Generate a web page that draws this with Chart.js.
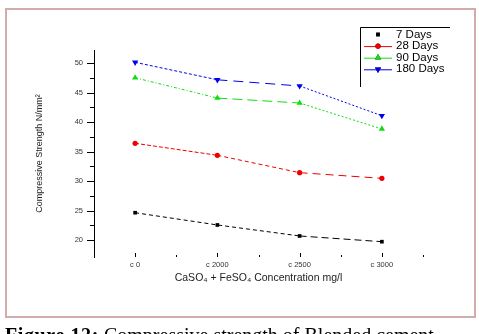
<!DOCTYPE html>
<html>
<head>
<meta charset="utf-8">
<script src="https://cdn.jsdelivr.net/npm/chart.js@4.4.1/dist/chart.umd.min.js"></script>
<style>
  body { margin:0; background:#fff; width:479px; height:334px; overflow:hidden; position:relative; }
  #frame { position:absolute; left:5px; top:8px; width:467px; height:306px; border:2px solid #d3abab; }
  #c { position:absolute; left:0; top:0; }
  #caption { position:absolute; left:5px; top:325px; font-family:'Liberation Serif','Times New Roman',serif; font-size:20px; line-height:20px; white-space:nowrap; color:#000; }
  #caption b { letter-spacing:0.6px; }
</style>
</head>
<body>
<div id="frame"></div>
<canvas id="c" width="479" height="334"></canvas>
<div id="caption"><b>Figure 12:</b> Compressive strength of Blended cement</div>
<script>
// chart data
const categories = ['c 0', 'c 2000', 'c 2500', 'c 3000'];
const seriesNames = ['7 Days', '28 Days', '90 Days', '180 Days'];
const days7   = [24.63, 22.55, 20.68, 19.71];
const days28  = [36.42, 34.38, 31.43, 30.47];
const days90  = [47.55, 44.10, 43.26, 38.85];
const days180 = [50.17, 47.20, 46.15, 41.10];
const yTicks = [20, 25, 30, 35, 40, 45, 50];

const toPoints = arr => arr.map((v, i) => ({ x: i, y: v }));

// per-segment dash patterns (Origin style mix)
const dashes = [
  [[4, 3], [4, 3], [7, 4]],
  [[4, 2], [4, 3], [8, 5]],
  [[3, 2, 1, 2], [10, 5], [2, 2]],
  [[3, 2], [10, 6], [2, 2]]
];

function ds(label, data, color, style, radius, rotation, idx) {
  return {
    label, data: toPoints(data),
    borderColor: color, backgroundColor: color,
    borderWidth: 1, pointStyle: style, pointRadius: radius, pointRotation: rotation,
    pointBorderWidth: 0, showLine: true, tension: 0,
    segment: { borderDash: c => dashes[idx][c.p0DataIndex] },
    legendLine: idx !== 0
  };
}

const minorTicks = {
  id: 'minorTicks',
  afterDraw(chart) {
    const { ctx } = chart;
    const x = chart.scales.x, y = chart.scales.y;
    ctx.save();
    ctx.strokeStyle = '#000';
    ctx.lineWidth = 1;
    ctx.beginPath();
    yTicks.forEach(v => {
      const p = Math.round(y.getPixelForValue(v)) + 0.5;
      ctx.moveTo(x.left - 7, p); ctx.lineTo(x.left, p);
      const m = Math.round(y.getPixelForValue(v + 2.5)) + 0.5;
      if (v + 2.5 < y.max) { ctx.moveTo(x.left - 4, m); ctx.lineTo(x.left, m); }
    });
    const b = y.bottom;
    categories.forEach((c, i) => {
      const p = Math.round(x.getPixelForValue(i)) + 0.5;
      ctx.moveTo(p, b - 4); ctx.lineTo(p, b);
      const m = Math.round(x.getPixelForValue(i + 0.5)) + 0.5;
      ctx.moveTo(m, b - 2); ctx.lineTo(m, b);
    });
    ctx.stroke();
    ctx.restore();
  }
};

const boxLegend = {
  id: 'boxLegend',
  afterDraw(chart) {
    const { ctx } = chart;
    ctx.save();
    ctx.strokeStyle = '#000';
    ctx.lineWidth = 1;
    ctx.beginPath();
    ctx.moveTo(360.5, 87); ctx.lineTo(360.5, 27.5); ctx.lineTo(450, 27.5);
    ctx.stroke();
    ctx.font = '11.5px "Liberation Sans", Arial, sans-serif';
    ctx.textBaseline = 'middle';
    chart.data.datasets.forEach((d, i) => {
      const yy = 34.5 + i * 11.6;
      if (d.legendLine) {
        ctx.strokeStyle = d.borderColor;
        ctx.beginPath(); ctx.moveTo(364, yy + 0.5); ctx.lineTo(392, yy + 0.5); ctx.stroke();
      }
      Chart.helpers.drawPoint(ctx, {
        pointStyle: d.pointStyle, radius: d.pointRadius, rotation: d.pointRotation, borderWidth: 0
      }, 378, yy);
      ctx.fillStyle = d.borderColor;
      ctx.fill();
      ctx.fillStyle = '#000';
      ctx.fillText(d.label, 396, yy);
    });
    ctx.restore();
  }
};

new Chart(document.getElementById('c'), {
  type: 'scatter',
  data: {
    datasets: [
      ds(seriesNames[0], days7, '#000000', 'rect', 2.6, 0, 0),
      ds(seriesNames[1], days28, '#ee0000', 'circle', 2.6, 0, 1),
      ds(seriesNames[2], days90, '#11dd11', 'triangle', 3.6, 0, 2),
      ds(seriesNames[3], days180, '#0000ee', 'triangle', 3.6, 180, 3)
    ]
  },
  options: {
    responsive: false,
    animation: false,
    layout: { padding: { left: 34, top: 50, right: 56, bottom: 37 } },
    plugins: { legend: { display: false }, tooltip: { enabled: false } },
    scales: {
      x: {
        type: 'linear', min: -0.5, max: 3.5,
        afterFit: s => { s.height = 40; },
        afterBuildTicks: s => { s.ticks = categories.map((c, i) => ({ value: i })); },
        grid: { drawOnChartArea: false, tickLength: 3, tickColor: 'rgba(0,0,0,0)' },
        border: { display: false },
        ticks: {
          padding: 0, color: '#333', maxRotation: 0,
          font: { family: '"Liberation Sans", Arial, sans-serif', size: 7.5 },
          callback: v => categories[v]
        },
        title: {
          display: true, text: 'CaSO\u2084 + FeSO\u2084 Concentration mg/l', color: '#222',
          font: { family: '"Liberation Sans", Arial, sans-serif', size: 10.5 },
          padding: { top: 0, bottom: 12.7 }
        }
      },
      y: {
        min: 17.11, max: 52.26,
        afterFit: s => { s.width = 60; },
        afterBuildTicks: s => { s.ticks = yTicks.map(v => ({ value: v })); },
        grid: { drawOnChartArea: false, tickLength: 7, tickColor: 'rgba(0,0,0,0)' },
        border: { display: true, color: '#000', width: 1 },
        ticks: {
          padding: 4, color: '#333',
          font: { family: '"Liberation Sans", Arial, sans-serif', size: 7.5 }
        },
        title: {
          display: true, text: 'Compressive Strength N/mm\u00b2', color: '#222',
          font: { family: '"Liberation Sans", Arial, sans-serif', size: 9 },
          padding: { top: 0, bottom: 0 }
        }
      }
    }
  },
  plugins: [minorTicks, boxLegend]
});
</script>
</body>
</html>
